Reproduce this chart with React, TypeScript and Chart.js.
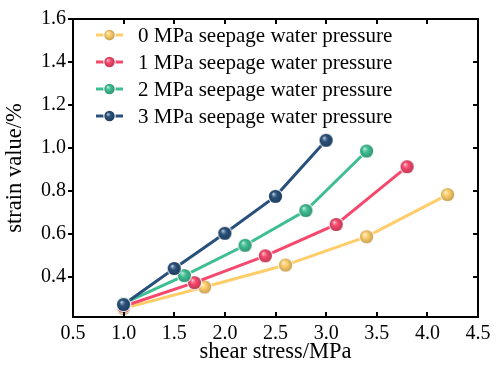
import React, { useEffect, useRef } from "react";
import { Chart, registerables } from "chart.js";
Chart.register(...registerables);

const seriesNames = [
  "0 MPa seepage water pressure",
  "1 MPa seepage water pressure",
  "2 MPa seepage water pressure",
  "3 MPa seepage water pressure",
];
const stress0 = [1.0, 1.8, 2.6, 3.4, 4.2];
const strain0 = [0.252, 0.352, 0.454, 0.586, 0.782];
const stress1 = [1.0, 1.7, 2.4, 3.1, 3.8];
const strain1 = [0.262, 0.372, 0.497, 0.643, 0.912];
const stress2 = [1.0, 1.6, 2.2, 2.8, 3.4];
const strain2 = [0.275, 0.405, 0.546, 0.708, 0.985];
const stress3 = [1.0, 1.5, 2.0, 2.5, 3.0];
const strain3 = [0.27, 0.438, 0.602, 0.774, 1.035];
const xTicks = [0.5, 1.0, 1.5, 2.0, 2.5, 3.0, 3.5, 4.0, 4.5];
const yTicks = [0.4, 0.6, 0.8, 1.0, 1.2, 1.4, 1.6];
const seriesColors: number[][] = [
  [255, 205, 105],
  [246, 72, 108],
  [62, 190, 146],
  [40, 80, 122],
];

const FONT = "'Liberation Serif', 'Times New Roman', serif";

const rgbStr = (c: number[], a = 1) => `rgba(${c[0]},${c[1]},${c[2]},${a})`;
const mix = (c: number[], t: number[], f: number) => c.map((v, i) => Math.round(v + (t[i] - v) * f));

function paintSphere(ctx: CanvasRenderingContext2D, cx: number, cy: number, r: number, c: number[]) {
  ctx.save();
  ctx.beginPath();
  ctx.arc(cx, cy, r + 1, 0, Math.PI * 2);
  ctx.fillStyle = "#ffffff";
  ctx.fill();
  const g = ctx.createRadialGradient(cx - r * 0.35, cy - r * 0.4, 0, cx, cy, r);
  g.addColorStop(0, "rgb(255,255,255)");
  g.addColorStop(0.15, rgbStr(mix(c, [255, 255, 255], 0.45)));
  g.addColorStop(0.45, rgbStr(c));
  g.addColorStop(1, rgbStr(mix(c, [0, 0, 0], 0.22)));
  ctx.beginPath();
  ctx.arc(cx, cy, r, 0, Math.PI * 2);
  ctx.fillStyle = g;
  ctx.fill();
  ctx.restore();
}

function sphereImage(c: number[], r: number) {
  const size = Math.ceil((r + 1.5) * 2);
  const cv = document.createElement("canvas");
  cv.width = size;
  cv.height = size;
  const ctx = cv.getContext("2d")!;
  paintSphere(ctx, size / 2, size / 2, r, c);
  return cv;
}

const framePlugin = {
  id: "frameAndLegend",
  afterDraw(chart: any) {
    const { ctx, chartArea } = chart;
    const { left, right, top, bottom } = chartArea;
    const xs = chart.scales.x;
    const ys = chart.scales.y;
    ctx.save();
    ctx.strokeStyle = "#000";
    ctx.lineWidth = 2;
    ctx.strokeRect(left, top, right - left, bottom - top);
    const tl = 5;
    ctx.beginPath();
    xTicks.forEach((v) => {
      const px = Math.round(xs.getPixelForValue(v));
      ctx.moveTo(px, bottom);
      ctx.lineTo(px, bottom - tl);
      ctx.moveTo(px, top);
      ctx.lineTo(px, top + tl);
    });
    yTicks.forEach((v) => {
      const py = Math.round(ys.getPixelForValue(v));
      ctx.moveTo(left, py);
      ctx.lineTo(left - tl, py);
      ctx.moveTo(right, py);
      ctx.lineTo(right - tl, py);
    });
    ctx.stroke();

    // legend
    ctx.font = `21px ${FONT}`;
    ctx.textBaseline = "middle";
    ctx.textAlign = "left";
    seriesNames.forEach((name, i) => {
      const y = 35 + i * 27;
      ctx.beginPath();
      ctx.strokeStyle = rgbStr(seriesColors[i]);
      ctx.lineWidth = 3;
      ctx.moveTo(96, y);
      ctx.lineTo(123, y);
      ctx.stroke();
      paintSphere(ctx, 109.5, y, 5.2, seriesColors[i]);
      ctx.fillStyle = "#000";
      ctx.fillText(name, 138, y + 1);
    });
    ctx.restore();
  },
};

export default function App() {
  const ref = useRef<HTMLCanvasElement | null>(null);
  useEffect(() => {
    if (!ref.current) return;
    const xs = [stress0, stress1, stress2, stress3];
    const ysd = [strain0, strain1, strain2, strain3];
    const datasets = seriesNames.map((name, i) => ({
      label: name,
      data: xs[i].map((x, j) => ({ x, y: ysd[i][j] })),
      borderColor: rgbStr(seriesColors[i]),
      backgroundColor: rgbStr(seriesColors[i]),
      borderWidth: 3,
      pointStyle: sphereImage(seriesColors[i], 6.6) as any,
      pointRadius: 7,
      tension: 0,
      order: 3 - i,
    }));
    const chart = new Chart(ref.current, {
      type: "line",
      data: { datasets },
      options: {
        animation: false,
        responsive: false,
        layout: { padding: { left: 0, right: 20, top: 16, bottom: 0 } },
        plugins: { legend: { display: false }, tooltip: { enabled: false } },
        scales: {
          x: {
            type: "linear",
            min: 0.5,
            max: 4.5,
            afterBuildTicks: (s: any) => {
              s.ticks = xTicks.map((v) => ({ value: v }));
            },
            afterFit: (s: any) => {
              s.height = 52;
            },
            grid: { display: false, drawTicks: false },
            border: { display: false },
            ticks: {
              color: "#000",
              padding: 5,
              font: { family: FONT, size: 20 },
              callback: (v: any) => Number(v).toFixed(1),
              maxRotation: 0,
            },
            title: {
              display: true,
              text: "shear stress/MPa",
              color: "#000",
              font: { family: FONT, size: 22.5 },
              padding: { top: 0, bottom: 3 },
            },
          },
          y: {
            type: "linear",
            min: 0.212,
            max: 1.6,
            afterBuildTicks: (s: any) => {
              s.ticks = yTicks.map((v) => ({ value: v }));
            },
            afterFit: (s: any) => {
              s.width = 73;
            },
            grid: { display: false, drawTicks: false },
            border: { display: false },
            ticks: {
              color: "#000",
              padding: 7,
              font: { family: FONT, size: 20 },
              callback: (v: any) => Number(v).toFixed(1),
            },
            title: {
              display: true,
              text: "strain value/%",
              color: "#000",
              font: { family: FONT, size: 22.5 },
              padding: { top: 1.5, bottom: 0 },
            },
          },
        },
      },
      plugins: [framePlugin],
    });
    return () => chart.destroy();
  }, []);
  return (
    <div style={{ position: "absolute", left: 0, top: 0, width: 498, height: 369, background: "#fff" }}>
      <canvas ref={ref} width={498} height={369} style={{ display: "block" }} />
    </div>
  );
}
